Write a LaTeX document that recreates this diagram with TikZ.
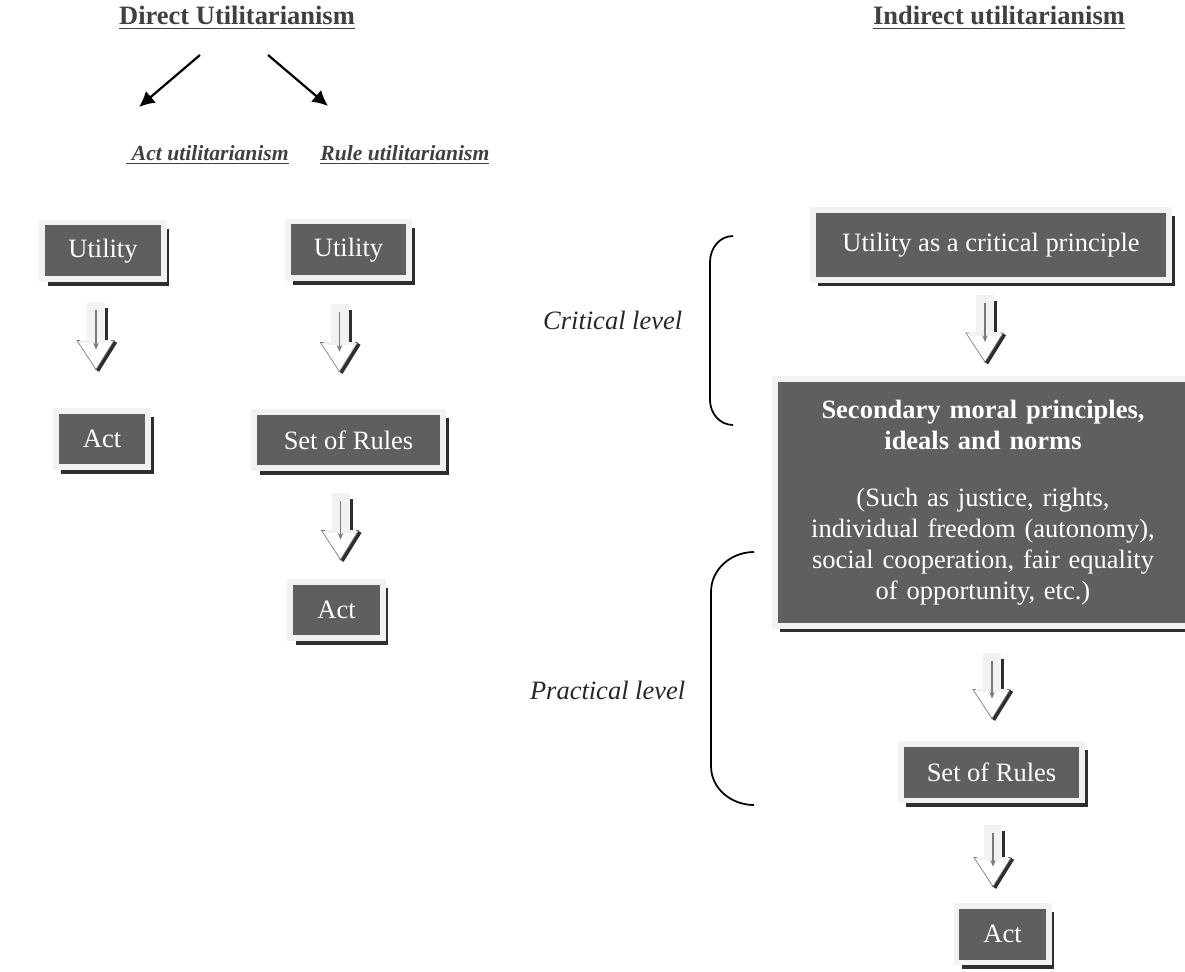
\documentclass[tikz,border=0pt]{standalone}
\usepackage{fontspec}
\setmainfont{Liberation Serif}
\usetikzlibrary{arrows.meta,calc,shadows}

\definecolor{boxdark}{HTML}{5F5F5F}
\definecolor{boxlight}{HTML}{F2F2F2}
\definecolor{shadowdark}{HTML}{2E2E2E}
\definecolor{arrowgray}{HTML}{7A7A7A}
\definecolor{titlegray}{HTML}{404040}

\tikzset{
  ubox/.style={fill=boxdark, draw=boxlight, line width=2.7pt, text=white,
    inner xsep=11.8pt, inner ysep=2pt, minimum height=25.8pt,
    font=\fontsize{12}{14}\selectfont,
    drop shadow={shadow xshift=2.5pt, shadow yshift=-2.9pt, fill=shadowdark, opacity=1}},
  heading/.style={font=\fontsize{12}{14}\selectfont\bfseries, text=titlegray},
  subheading/.style={font=\fontsize{9.8}{11}\selectfont\bfseries\itshape, text=titlegray},
  levellabel/.style={font=\fontsize{12}{14}\selectfont\itshape, text=black!85},
  bracket/.style={line width=0.8pt},
}

% hollow block arrow, from the top of its shaft (#1) to its tip (#2)
\newcommand{\hollowarrow}[2]{%
  \fill[boxlight] ($(#1)+(-9,0)$) rectangle ($(#2)+(9,-28)$);
  \fill[shadowdark] ($(#1)+(9,6)$) rectangle ($(#2)+(12,-28)$);
  \draw[shadowdark, line width=2.2pt] ($(#2)+(19,-28)$) -- ($(#2)+(1,1)$);
  \filldraw[fill=white, draw=arrowgray, line width=0.3pt]
    ($(#2)+(-19,-29)$) -- ($(#2)+(18,-29)$) -- (#2) -- cycle;
  \draw[boxlight, line width=1.5pt] ($(#2)+(-16,-28)$) -- ($(#2)+(15,-28)$);
  \draw[arrowgray, line width=0.6pt, -{Stealth[length=3pt,width=2.5pt]}]
    ($(#1)+(0,8)$) -- ($(#2)+(0,-20)$);
}

\begin{document}
\begin{tikzpicture}[x=0.453pt, y=-0.453pt]
\useasboundingbox (0,0) rectangle (1185,972);

% headings
\node[heading] (direct) at (237,18) {\underline{Direct Utilitarianism}};
\node[heading] (indirect) at (999,18) {\underline{Indirect utilitarianism}};
\node[subheading, anchor=west, inner sep=0pt] (actH) at (126,155) {\underline{\ Act utilitarianism}};
\node[subheading, anchor=west, inner sep=0pt] (ruleH) at (320,155) {\underline{Rule utilitarianism}};

\coordinate (d1) at (200,55);
\coordinate (d2) at (268,55);
\coordinate (e1) at (139,107);
\coordinate (e2) at (328,106);
\draw[line width=1pt, -{Latex[length=7pt,width=7pt]}] (d1) -- (e1);
\draw[line width=1pt, -{Latex[length=7pt,width=7pt]}] (d2) -- (e2);

% act utilitarianism
\node[ubox, minimum width=52.5pt] (utilA) at (103,251) {Utility};
\node[ubox, minimum width=41.7pt] (actA) at (102,439) {Act};

% rule utilitarianism
\node[ubox, minimum width=52.5pt] (utilR) at (348.5,250) {Utility};
\node[ubox, minimum width=85.6pt] (rulesR) at (348.5,440) {Set of Rules};
\node[ubox, minimum width=41.7pt] (actR) at (336.5,610) {Act};

% indirect utilitarianism
\node[ubox, minimum width=161.3pt, minimum height=31.7pt] (critical) at (991,245)
  {Utility as a critical principle};
\node[ubox, minimum width=181.2pt, minimum height=111.9pt, align=center, text width=165pt]
  (secondary) at (983,502.5)
  {\textbf{Secondary moral principles,}\\ \textbf{ideals and norms}\\[11.8pt]
   (Such as justice, rights,\\ individual freedom (autonomy),\\
   social cooperation, fair equality\\ of opportunity, etc.)};
\node[ubox, minimum width=81pt] (rulesI) at (991.5,772) {Set of Rules};
\node[ubox, minimum width=41.7pt] (actI) at (1002.5,934) {Act};

% block arrows
\coordinate (t1) at ($(utilA.south)+(-7,20)$);
\coordinate (p1) at ($(t1 |- actA.north)+(0,-38)$);
\hollowarrow{t1}{p1}
\coordinate (t2) at ($(utilR.south)+(-9,23)$);
\coordinate (p2) at ($(t2 |- rulesR.north)+(0,-37)$);
\hollowarrow{t2}{p2}
\coordinate (t3) at ($(rulesR.south)+(-8,22)$);
\coordinate (p3) at ($(t3 |- actR.north)+(0,-19)$);
\hollowarrow{t3}{p3}
\coordinate (t4) at ($(critical.south)+(-6,12)$);
\coordinate (p4) at ($(t4 |- secondary.north)+(0,-14)$);
\hollowarrow{t4}{p4}
\coordinate (t5) at ($(secondary.south)+(9,24)$);
\coordinate (p5) at ($(t5 |- rulesI.north)+(0,-22)$);
\hollowarrow{t5}{p5}
\coordinate (t6) at ($(rulesI.south)+(1.5,22)$);
\coordinate (p6) at ($(t6 |- actI.north)+(0,-16)$);
\hollowarrow{t6}{p6}

% levels
\draw[bracket] (733,236) to[out=180,in=90] (710,262) -- (710,400) to[out=-90,in=180] (733,425);
\draw[bracket] (754,552) to[out=180,in=90] (711,592) -- (711,766) to[out=-90,in=180] (754,805);
\node[levellabel, anchor=east] (critL) at (690,320) {Critical level};
\node[levellabel, anchor=east] (pracL) at (693,690) {Practical level};
\end{tikzpicture}
\end{document}
